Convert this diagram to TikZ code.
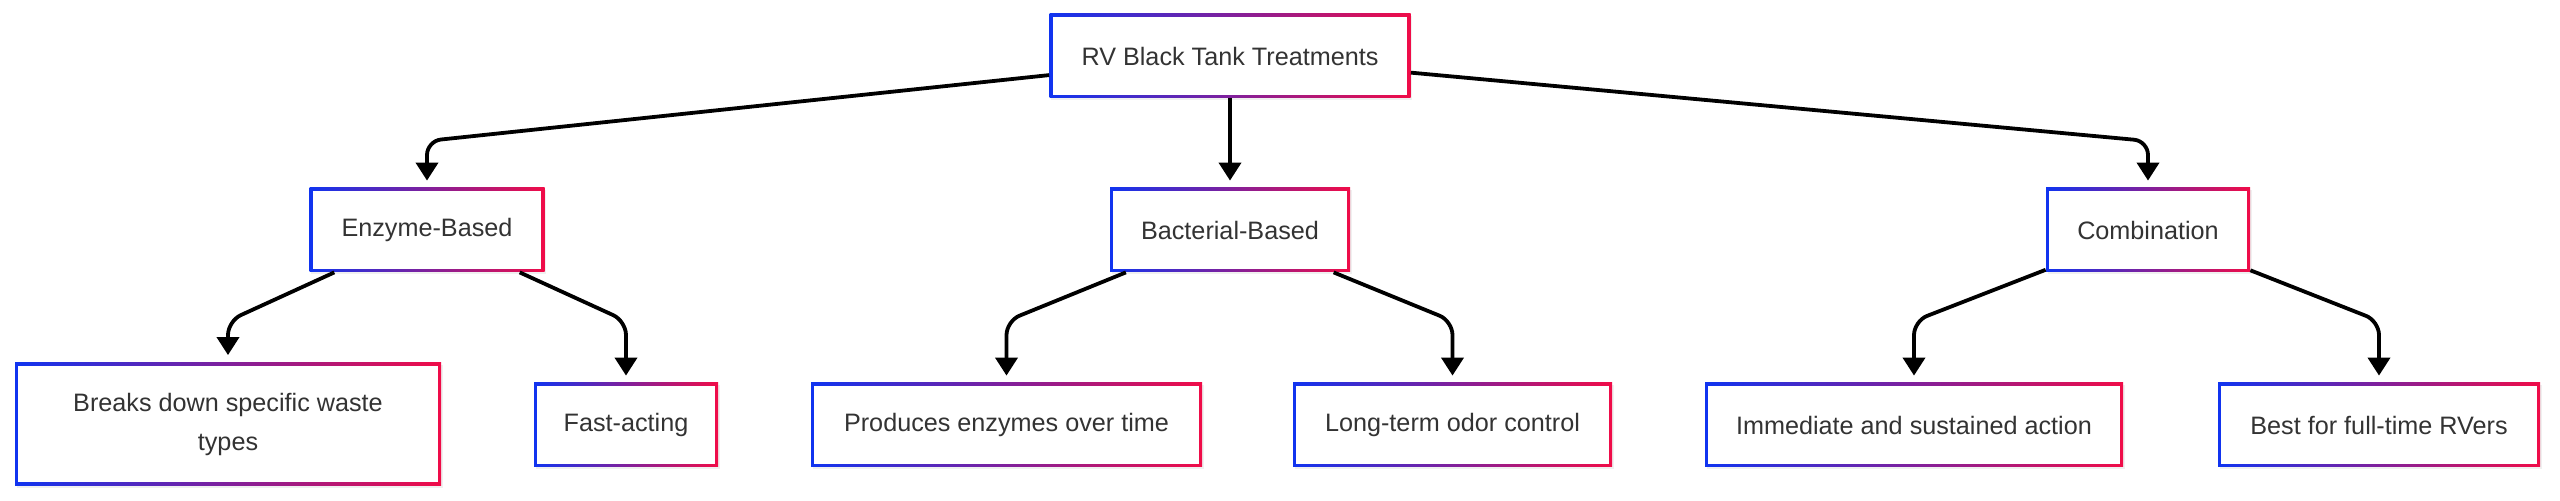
\documentclass[tikz,border=0pt]{standalone}
\usepackage{fontspec}
\setmainfont{Liberation Sans}
\usepackage{tikz}
\usetikzlibrary{arrows.meta,shadows}

\definecolor{tblue}{RGB}{16,52,240}
\definecolor{tred}{RGB}{240,12,72}
\definecolor{tgray}{HTML}{333333}

\tikzset{
  tbox/.style={rectangle, left color=tblue, right color=tred,
    drop shadow={opacity=0.12, shadow xshift=0.8pt, shadow yshift=-1.2pt},
    path picture={\fill[white] ([shift={(1.6pt,1.6pt)}]path picture bounding box.south west)
      rectangle ([shift={(-1.6pt,-1.6pt)}]path picture bounding box.north east);},
    text=tgray, font=\fontsize{12.6}{19.5}\selectfont, align=center,
    minimum height=42pt, inner sep=0pt},
  link/.style={draw=black, line width=1.9pt, rounded corners=7pt,
    -{Triangle[width=11pt,length=9pt]}, shorten >=3.5pt}
}

\begin{document}
\begin{tikzpicture}[x=0.5pt, y=-0.5pt]
    \useasboundingbox (0,0) rectangle (2560,501);
    \coordinate (lvl1) at (0,141);
    \coordinate (lvl2) at (0,321);

    \node[tbox, minimum width=180.5pt] (root) at (1230,56) {RV Black Tank Treatments};

    \node[tbox, minimum width=117.5pt] (enz)  at (427,230)  {Enzyme-Based};
    \node[tbox, minimum width=120pt]   (bact) at (1230,230) {Bacterial-Based};
    \node[tbox, minimum width=102pt]   (comb) at (2148,230) {Combination};

    \node[tbox, minimum width=213pt, minimum height=61.5pt] (brk) at (228,424) {Breaks down specific waste\\types};
    \node[tbox, minimum width=92pt]    (fast) at (626,425)    {Fast-acting};
    \node[tbox, minimum width=195.5pt] (prod) at (1006.5,425) {Produces enzymes over time};
    \node[tbox, minimum width=159.5pt] (odor) at (1452.5,425) {Long-term odor control};
    \node[tbox, minimum width=209pt]   (imm)  at (1914,425)   {Immediate and sustained action};
    \node[tbox, minimum width=161pt]   (best) at (2379,425)   {Best for full-time RVers};

    \draw[link] (root) -- (enz.north |- lvl1) -- (enz);
    \draw[link] (root) -- (bact);
    \draw[link] (root) -- (comb.north |- lvl1) -- (comb);

    \draw[link] (enz) -- (brk.north |- lvl2) -- (brk);
    \draw[link] (enz) -- (fast.north |- lvl2) -- (fast);
    \draw[link] (bact) -- (prod.north |- lvl2) -- (prod);
    \draw[link] (bact) -- (odor.north |- lvl2) -- (odor);
    \draw[link] (comb) -- (imm.north |- lvl2) -- (imm);
    \draw[link] (comb) -- (best.north |- lvl2) -- (best);
  \end{tikzpicture}
\end{document}
